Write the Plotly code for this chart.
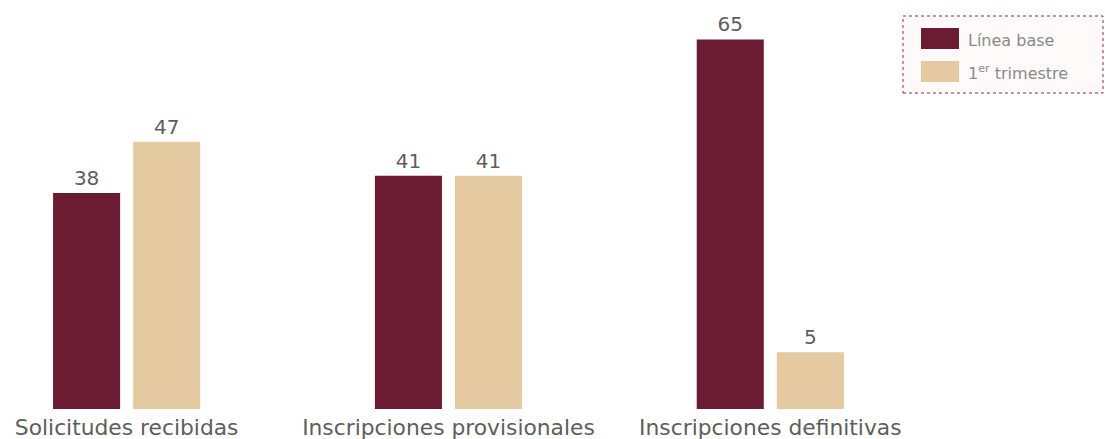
import plotly.graph_objects as go

categories = ["Solicitudes recibidas", "Inscripciones provisionales", "Inscripciones definitivas"]
series_names = ["Línea base", "1<sup>er</sup> trimestre"]
linea_base = [38, 41, 65]
trimestre = [47, 41, 10]          # bar heights as drawn in the reference
linea_base_labels = ["38", "41", "65"]
trimestre_labels = ["47", "41", "5"]  # labels as printed in the reference

colors = ["#6B1B32", "#E4C9A1"]
text_color = "#5E5E5E"
FONT = "DejaVu Sans"

W, H = 1105, 439
plot_h = 409

fig = go.Figure()
for name, vals, labels, col in [
    (series_names[0], linea_base, linea_base_labels, colors[0]),
    (series_names[1], trimestre, trimestre_labels, colors[1]),
]:
    fig.add_trace(go.Bar(
        x=categories, y=vals, name=name, marker=dict(color=col, line=dict(width=0)),
        text=labels, textposition="outside", cliponaxis=False,
        textfont=dict(family=FONT, size=20, color=text_color),
        showlegend=False, hoverinfo="skip",
    ))

def px_x(px):
    return px / W

def px_y(py):
    return (plot_h - py) / plot_h

shapes = [
    dict(type="rect", xref="paper", yref="paper",
         x0=px_x(903), x1=px_x(1103), y0=px_y(93), y1=px_y(16),
         fillcolor="#FFFAFA", line=dict(color="#9B2247", width=1, dash="dot"), layer="above"),
    dict(type="rect", xref="paper", yref="paper",
         x0=px_x(921), x1=px_x(959), y0=px_y(49), y1=px_y(28),
         fillcolor=colors[0], line=dict(width=0), layer="above"),
    dict(type="rect", xref="paper", yref="paper",
         x0=px_x(921), x1=px_x(959), y0=px_y(82), y1=px_y(61),
         fillcolor=colors[1], line=dict(width=0), layer="above"),
]
annotations = [
    dict(xref="paper", yref="paper", x=px_x(966), y=px_y(40), text=series_names[0],
         showarrow=False, xanchor="left", yanchor="middle",
         font=dict(family=FONT, size=16, color="#8A8A8A")),
    dict(xref="paper", yref="paper", x=px_x(966), y=px_y(72), text=series_names[1],
         showarrow=False, xanchor="left", yanchor="middle",
         font=dict(family=FONT, size=16, color="#8A8A8A")),
]

fig.update_layout(
    width=W, height=H,
    margin=dict(l=0, r=0, t=0, b=H - plot_h),
    paper_bgcolor="white", plot_bgcolor="white",
    barmode="group", bargap=0.5023, bargroupgap=0.1625,
    xaxis=dict(range=[-0.3935, 3.04], showgrid=False, showline=False, zeroline=False,
               ticks="", ticklabelstandoff=3,
               tickfont=dict(family=FONT, size=21.8, color=text_color)),
    yaxis=dict(range=[0, plot_h / 5.686], visible=False),
    shapes=shapes, annotations=annotations,
    font=dict(family=FONT),
)

fig.write_html("out.html", config={"displayModeBar": False},
               post_script="document.body.style.margin='0';document.body.style.overflow='hidden';")
